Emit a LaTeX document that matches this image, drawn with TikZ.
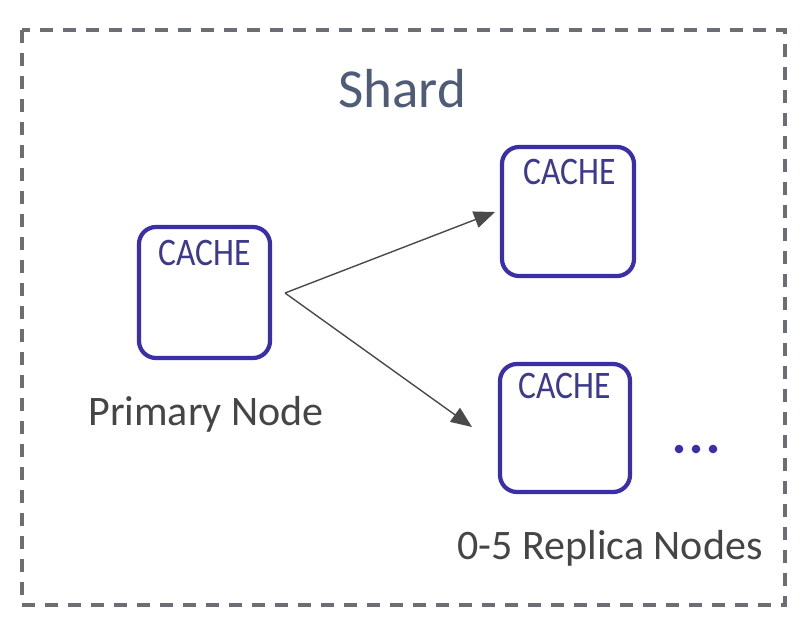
\documentclass[tikz,border=0pt]{standalone}
\usepackage{fontspec}
\setmainfont{Carlito}
\newfontfamily\cachefont[FakeStretch=0.86]{Carlito}
\usetikzlibrary{arrows.meta}
\definecolor{boxblue}{HTML}{3A2FA8}
\definecolor{cacheblue}{HTML}{3D3A8E}
\definecolor{shardcol}{HTML}{4F5C78}
\definecolor{bordergray}{HTML}{6B6E75}
\definecolor{textgray}{HTML}{454545}
\definecolor{arrowgray}{HTML}{4A4A4A}
\tikzset{
  cachebox/.style={draw=boxblue, line width=4.2pt, rounded corners=17pt, fill=white, inner sep=0pt},
  cachelabel/.style={text=cacheblue, font=\cachefont\fontsize{39}{42}\selectfont, inner sep=0pt},
  caption/.style={text=textgray, font=\fontsize{42}{46}\selectfont, inner sep=0pt},
  flow/.style={draw=arrowgray, line width=1.4pt, -{Triangle[length=21pt,width=17pt]}},
  dot/.style={fill=boxblue}
}
\begin{document}
\begin{tikzpicture}[x=1pt,y=-1pt]
\useasboundingbox (0,0) rectangle (810,634);
\fill[white] (0,0) rectangle (810,634);
\draw[bordergray, line width=3.2pt, dash pattern=on 13pt off 10pt] (22,30) rectangle (785,605);
\node[text=shardcol, font=\fontsize{55}{60}\selectfont, inner sep=0pt] (shard) at (402,89) {Shard};
\node[cachebox, minimum width=131pt, minimum height=131pt] (prim) at (204.5,292.5) {};
\node[cachebox, minimum width=132pt, minimum height=129pt] (rep1) at (568,211.5) {};
\node[cachebox, minimum width=130pt, minimum height=128pt] (rep2) at (565,428) {};
\node[cachelabel] (c1) at (205,253) {CACHE};
\node[cachelabel] (c2) at (570,172) {CACHE};
\node[cachelabel] (c3) at (565,386) {CACHE};
\node[caption] (plabel) at (206,414) {Primary Node};
\node[caption] (rlabel) at (610,548) {0-5 Replica Nodes};
\coordinate (src) at (285,293);
\coordinate (t1) at (495,212);
\coordinate (t2) at (472,427);
\draw[flow] (src) -- (t1);
\draw[flow] (src) -- (t2);
\fill[dot] (679,449) circle (4.3pt);
\fill[dot] (696,449) circle (4.3pt);
\fill[dot] (713,449) circle (4.3pt);
\end{tikzpicture}
\end{document}
